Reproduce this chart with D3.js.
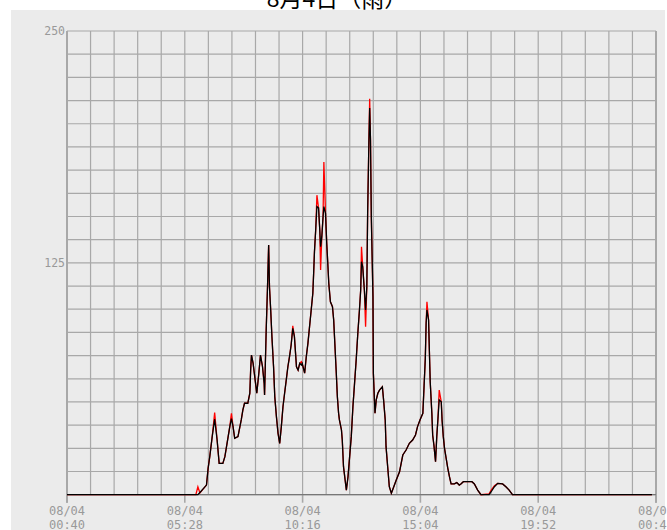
<!DOCTYPE html>
<html>
<head>
<meta charset="utf-8">
<script src="https://cdn.jsdelivr.net/npm/d3@7"></script>
<style>
html,body{margin:0;padding:0;background:#fff;}
svg{display:block;}
</style>
</head>
<body>
<script>
// ---- data ----
const title = "8月4日（雨）";
// minutes elapsed since 08/04 00:40
const minutes = [0,315,320,325,341,345,349,355,361,367,372,381,386,390,394,398,402,406,410,418,426,430,434,442,447,449,451,455,461,464,469,473,478,482,483,487,490,493,495,498,501,505,508,512,516,520,524,528,532,536,540,544,548,552,556,561,565,569,573,575,581,585,589,593,597,601,603,605,608,611,615,618,620,623,626,628,632,635,638,640,644,649,652,654,658,661,664,666,671,673,676,680,683,687,691,695,699,703,707,711,715,718,720,723,727,730,733,735,738,740,742,744,748,749,753,756,760,764,771,774,778,780,784,788,793,796,805,813,817,821,829,837,845,852,857,863,870,872,876,878,880,884,886,888,892,894,897,899,901,904,907,910,915,917,920,923,927,931,935,939,947,953,959,963,969,984,990,996,1004,1012,1032,1037,1045,1053,1065,1073,1081,1089,1430];
const blackValues = [0,0,0,1.2,5.2,14.2,20.5,31.3,40.7,29.5,16.9,16.9,20.5,25.9,31.3,36.7,41,36.7,30.4,31.3,40.3,45.7,49.3,49.3,54.7,67.2,75.3,70.8,60,54.7,65.5,75.3,69,60,53.8,88.8,110.4,134.6,112.1,99.6,85.2,69,52.8,42.1,33.1,27.7,36.7,47.4,54.7,61.8,69,74.4,80.7,89.7,85.2,69,67.2,70.8,69.9,70.8,65.5,74.4,81.6,90.6,99.6,108.6,119.4,131,142.7,155.3,154.6,142.7,133.7,139.1,149.9,155.3,151.7,135.5,122.9,114,104,101.4,94.2,85.2,67.2,52.8,43.9,40.3,34.9,29.5,15.1,7.9,2.5,9.7,20.5,31.3,47.4,60,72.6,87,99.6,110.4,125.6,122.9,110.4,99.6,112.1,151.7,189.5,208.5,191.2,149.9,106.8,65.5,43.9,51.1,54.7,56.4,58.2,51.1,40.3,25.9,15.1,4.3,0.8,2.5,7.9,12.4,16.9,21.4,24.1,27.7,29.5,32.2,36.7,40.3,43.9,53.8,73.5,92.4,99.6,94.2,77.1,60.9,43.9,32.2,26.8,22.3,17.8,31.3,41.2,51.1,50.1,40.3,31.3,25,19.6,14.2,9.7,5.8,5.8,6.5,5.2,5.8,7,7,7,5.8,2.5,0,0,1.6,4.3,6.1,5.8,4.3,2.5,0,0];
const redValues = [0,0,4.3,1,5.2,14.2,20.5,31.3,44.3,29.5,16.9,16.9,20.5,25.9,31.3,36.7,43.9,36.7,30.4,31.3,40.3,45.7,49.3,49.3,54.7,67.2,75.3,70.8,60,54.7,65.5,75.3,69,60,53.8,88.8,110.4,134.6,112.1,99.6,85.2,69,52.8,42.1,33.1,27.7,36.7,47.4,54.7,61.8,69,74.4,80.7,91,85.2,69,67.2,70.8,71.7,70.8,65.5,74.4,81.6,90.6,99.6,108.6,119.4,131,142.7,161.5,154.6,142.7,121.1,139.1,149.9,179.4,151.7,135.5,122.9,114,104,101.4,94.2,85.2,67.2,52.8,43.9,40.3,34.9,29.5,15.1,7.9,2.5,9.7,20.5,31.3,47.4,60,72.6,87,99.6,110.4,133.7,122.9,110.4,90.6,112.1,151.7,189.5,213.5,191.2,149.9,106.8,65.5,43.9,51.1,54.7,56.4,58.2,51.1,40.3,25.9,15.1,4.3,0.8,2.5,7.9,12.4,16.9,21.4,24.1,27.7,29.5,32.2,36.7,40.3,43.9,53.8,73.5,92.4,104,94.2,77.1,60.9,43.9,32.2,26.8,22.3,17.8,31.3,41.2,56.4,50.1,40.3,31.3,25,19.6,14.2,9.7,5.8,5.8,6.5,5.2,5.8,7,7,7,5.8,2.5,0,0.5,2.5,4.8,6.1,5.8,4.3,2.5,0,0];
const yTickValues = [125, 250];
const xTickMinutes = [0, 288, 576, 864, 1152, 1440];
const xTickDates = ["08/04","08/04","08/04","08/04","08/04","08/05"];
const xTickTimes = ["00:40","05:28","10:16","15:04","19:52","00:40"];

// ---- layout ----
const W = 667, H = 530;
const L = 67, R = 656, T = 31, B = 494.7;

const svg = d3.select("body").append("svg").attr("width", W).attr("height", H);

svg.append("rect").attr("x", 11).attr("y", 10).attr("width", 654).attr("height", H - 10).attr("fill", "#ebebeb");

svg.append("text").attr("x", 337).attr("y", 7).attr("text-anchor", "middle")
  .attr("font-family", "'Noto Sans CJK JP', 'Noto Sans CJK SC', sans-serif")
  .attr("font-size", 23).attr("fill", "#000").text(title);

const x = d3.scaleLinear().domain([0, 1440]).range([L, R]);
const y = d3.scaleLinear().domain([0, 250]).range([B, T]);

const grid = svg.append("g").attr("stroke", "#a8a8a8").attr("stroke-width", 1.2).attr("fill", "none");
d3.range(0, 26).forEach(i => {
  const xv = x(i * 57.6);
  grid.append("line").attr("x1", xv).attr("x2", xv).attr("y1", T).attr("y2", B);
});
d3.range(0, 21).forEach(j => {
  const yv = y(j * 12.5);
  grid.append("line").attr("x1", L).attr("x2", R).attr("y1", yv).attr("y2", yv);
});
// borders
grid.append("line").attr("x1", L).attr("x2", L).attr("y1", T).attr("y2", B + 8).attr("stroke-width", 2);
grid.append("line").attr("x1", R).attr("x2", R).attr("y1", T).attr("y2", B + 8).attr("stroke-width", 2);
xTickMinutes.forEach(m => {
  grid.append("line").attr("x1", x(m)).attr("x2", x(m)).attr("y1", B).attr("y2", B + 8).attr("stroke-width", 1.6);
});
grid.append("line").attr("x1", L).attr("x2", R).attr("y1", B).attr("y2", B).attr("stroke", "#777");

const font = "'DejaVu Sans Mono', monospace";
svg.append("g").selectAll("text").data(yTickValues).join("text")
  .attr("x", 65).attr("y", d => y(d) + 4).attr("text-anchor", "end")
  .attr("font-family", font).attr("font-size", 11.5).attr("fill", "#999")
  .text(d => d);

const xl = svg.append("g").attr("font-family", font).attr("font-size", 12).attr("fill", "#999").attr("text-anchor", "middle");
xTickMinutes.forEach((m, i) => {
  xl.append("text").attr("x", x(m)).attr("y", 515).text(xTickDates[i]);
  xl.append("text").attr("x", x(m)).attr("y", 528.5).text(xTickTimes[i]);
});

const line = vals => d3.line().x((d, i) => x(minutes[i])).y((d) => y(d))(vals);
svg.append("path").attr("d", line(redValues)).attr("fill", "none").attr("stroke", "#ff0000").attr("stroke-width", 1.3);
svg.append("path").attr("d", line(blackValues)).attr("fill", "none").attr("stroke", "#000").attr("stroke-width", 1.3);
</script>
</body>
</html>
